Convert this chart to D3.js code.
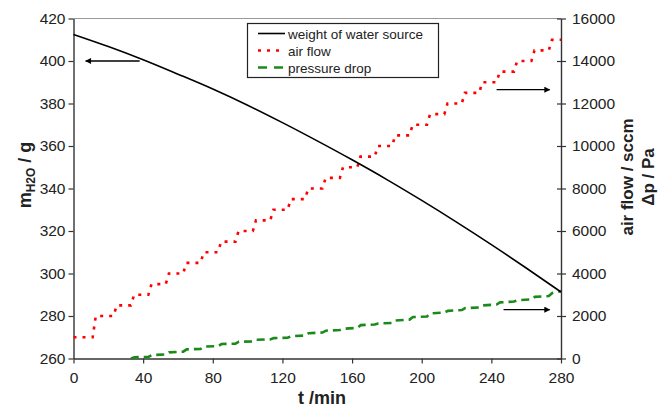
<!DOCTYPE html>
<html>
<head>
<meta charset="utf-8">
<script src="https://cdn.jsdelivr.net/npm/d3@7"></script>
<style>
  body { margin: 0; background: white; }
  text { font-family: "Liberation Sans", Arial, sans-serif; }
</style>
</head>
<body>
<div id="chart"></div>
<script>
var width = 669;
var height = 411;

// weight of water source (g) vs time (min)
var weightT = [0, 20, 40, 60, 80, 100, 120, 140, 160, 180, 200, 220, 240, 260, 280];
var weightV = [412.5, 406.8, 400.6, 393.8, 386.8, 379.2, 371, 362.4, 353.5, 344.2, 334.4, 324.2, 313.6, 302.6, 291.3];

// air flow (sccm), level set at each time
var flowT = [0, 12, 24, 34, 44, 54, 64, 74, 84, 94, 104, 114, 124, 134, 144, 154, 164, 174, 184, 194, 204, 214, 224, 234, 244, 254, 264, 274, 280];
var flowV = [1000, 2000, 2500, 3000, 3500, 4000, 4500, 5000, 5500, 6000, 6500, 7000, 7500, 8000, 8500, 9000, 9500, 10000, 10500, 11000, 11500, 12000, 12500, 13000, 13500, 14000, 14500, 15000, 15000];

// pressure drop (Pa)
var dropT = [33, 35, 43, 45, 53, 55, 63, 65, 73, 75, 83, 85, 93, 95, 103, 105, 113, 115, 123, 125, 133, 135, 143, 145, 153, 155, 163, 165, 173, 175, 183, 185, 193, 195, 203, 205, 213, 215, 223, 225, 233, 235, 243, 245, 253, 255, 263, 265, 273, 275, 280];
var dropV = [0, 60, 70, 160, 190, 290, 320, 430, 450, 560, 580, 680, 700, 790, 800, 880, 900, 960, 980, 1050, 1080, 1190, 1220, 1310, 1340, 1400, 1440, 1570, 1600, 1650, 1670, 1790, 1830, 1950, 1980, 2120, 2160, 2240, 2280, 2370, 2400, 2500, 2540, 2640, 2680, 2740, 2780, 2900, 2940, 3080, 3170];

var xTicks = [0, 40, 80, 120, 160, 200, 240, 280];
var yLeftTicks = [260, 280, 300, 320, 340, 360, 380, 400, 420];
var yRightTicks = [0, 2000, 4000, 6000, 8000, 10000, 12000, 14000, 16000];

var legendNames = ["weight of water source", "air flow", "pressure drop"];

var plotLeft = 73.5, plotRight = 561, plotTop = 18.5, plotBottom = 358.5;

var x = d3.scaleLinear().domain([0, 280]).range([plotLeft, plotRight]);
var yL = d3.scaleLinear().domain([260, 420]).range([plotBottom, plotTop]);
var yR = d3.scaleLinear().domain([0, 16000]).range([plotBottom, plotTop]);

var svg = d3.select("#chart")
            .append("svg")
            .attr("width", width)
            .attr("height", height);

svg.append("defs").append("marker")
    .attr("id", "arrow")
    .attr("viewBox", "0 0 10 10")
    .attr("refX", 9)
    .attr("refY", 5)
    .attr("markerWidth", 9)
    .attr("markerHeight", 6)
    .attr("markerUnits", "userSpaceOnUse")
    .attr("orient", "auto")
    .append("path")
    .attr("d", "M0,0 L10,5 L0,10 z")
    .attr("fill", "black");

// top frame
svg.append("line")
    .attr("x1", plotLeft).attr("x2", plotRight)
    .attr("y1", plotTop).attr("y2", plotTop)
    .attr("stroke", "#999")
    .attr("stroke-width", 1.2);

// axes
var xAxis = svg.append("g")
    .attr("transform", "translate(0," + plotBottom + ")")
    .call(d3.axisBottom(x).tickValues(xTicks).tickSize(5).tickSizeOuter(0).tickFormat(d3.format("d")));
xAxis.selectAll("text").attr("dy", "1.05em");

var leftAxis = svg.append("g")
    .attr("transform", "translate(" + plotLeft + ",0)")
    .call(d3.axisLeft(yL).tickValues(yLeftTicks).tickSize(5).tickSizeOuter(0).tickFormat(d3.format("d")));
leftAxis.selectAll("text").attr("x", -8);

var rightAxis = svg.append("g")
    .attr("transform", "translate(" + plotRight + ",0)")
    .call(d3.axisRight(yR).tickValues(yRightTicks).tickSize(5).tickSizeOuter(0).tickFormat(d3.format("d")));
rightAxis.selectAll(".tick line").attr("x1", -4);
rightAxis.selectAll("text").attr("x", 11);

svg.selectAll(".domain").attr("stroke", "#333").attr("stroke-width", 1.4);
svg.selectAll(".tick line").attr("stroke", "#333").attr("stroke-width", 1.2);
svg.selectAll(".tick text")
    .attr("fill", "#222")
    .style("font-family", "Liberation Sans, Arial, sans-serif")
    .style("font-size", "15.5px");

// series
var weightLine = d3.line()
    .x(function(d, i) { return x(weightT[i]); })
    .y(function(d) { return yL(d); })
    .curve(d3.curveMonotoneX);

var flowPts = [];
flowT.forEach(function(t, i) {
    if (i > 0 && flowV[i] !== flowV[i - 1]) {
        flowPts.push([t - 1, flowV[i - 1]]);
    }
    flowPts.push([i > 0 && flowV[i] !== flowV[i - 1] ? t + 0.8 : t, flowV[i]]);
});

var rLine = d3.line()
    .x(d => x(d[0]))
    .y(d => yR(d[1]));

svg.append("path")
    .datum(flowPts)
    .attr("d", rLine)
    .attr("fill", "none")
    .attr("stroke", "#ff0000")
    .attr("stroke-width", 2.6)
    .attr("stroke-dasharray", "3,6");

svg.append("path")
    .datum(dropT.map(function(t, i) { return [t, dropV[i]]; }))
    .attr("d", rLine)
    .attr("fill", "none")
    .attr("stroke", "#1a8a1a")
    .attr("stroke-width", 2.6)
    .attr("stroke-dasharray", "8,5");

svg.append("path")
    .datum(weightV)
    .attr("d", weightLine)
    .attr("fill", "none")
    .attr("stroke", "black")
    .attr("stroke-width", 1.6);

// arrows pointing to the matching axis
svg.append("line")
    .attr("x1", x(38)).attr("x2", x(7))
    .attr("y1", yL(400)).attr("y2", yL(400))
    .attr("stroke", "black").attr("stroke-width", 1.3)
    .attr("marker-end", "url(#arrow)");
svg.append("line")
    .attr("x1", x(243)).attr("x2", x(273.5))
    .attr("y1", yR(12650)).attr("y2", yR(12650))
    .attr("stroke", "black").attr("stroke-width", 1.3)
    .attr("marker-end", "url(#arrow)");
svg.append("line")
    .attr("x1", x(247)).attr("x2", x(273.5))
    .attr("y1", yR(2300)).attr("y2", yR(2300))
    .attr("stroke", "black").attr("stroke-width", 1.3)
    .attr("marker-end", "url(#arrow)");

// legend
var legend = svg.append("g");
legend.append("rect")
    .attr("x", 247.5).attr("y", 23.5)
    .attr("width", 191).attr("height", 54)
    .attr("fill", "white")
    .attr("stroke", "#222")
    .attr("stroke-width", 1.2);
var legendStyles = [
    { color: "black", dash: null, w: 1.6 },
    { color: "#ff0000", dash: "3,6", w: 2.6 },
    { color: "#1a8a1a", dash: "9,7", w: 2.6 }
];
legendNames.forEach(function(name, i) {
    var ly = 33.5 + i * 17;
    legend.append("line")
        .attr("x1", 258).attr("x2", 285)
        .attr("y1", ly).attr("y2", ly)
        .attr("stroke", legendStyles[i].color)
        .attr("stroke-width", legendStyles[i].w)
        .attr("stroke-dasharray", legendStyles[i].dash);
    legend.append("text")
        .attr("x", 288)
        .attr("y", ly + 5)
        .style("font-size", "13.5px")
        .attr("fill", "#222")
        .text(name);
});

// axis titles
svg.append("text")
    .attr("x", 322)
    .attr("y", 404)
    .style("text-anchor", "middle")
    .style("font-weight", "bold")
    .style("font-size", "18px")
    .attr("fill", "#222")
    .text("t /min");

var leftTitle = svg.append("text")
    .attr("transform", "translate(31,175) rotate(-90)")
    .style("text-anchor", "middle")
    .style("font-weight", "bold")
    .style("font-size", "18px")
    .attr("fill", "#222");
leftTitle.append("tspan").text("m");
leftTitle.append("tspan").attr("dy", 4).style("font-size", "12px").text("H2O");
leftTitle.append("tspan").attr("dy", -4).text(" / g");

svg.append("text")
    .attr("transform", "translate(633,177) rotate(-90)")
    .style("text-anchor", "middle")
    .style("font-weight", "bold")
    .style("font-size", "17px")
    .attr("fill", "#222")
    .text("air flow / sccm");

svg.append("text")
    .attr("transform", "translate(654,177) rotate(-90)")
    .style("text-anchor", "middle")
    .style("font-weight", "bold")
    .style("font-size", "17px")
    .attr("fill", "#222")
    .text("Δp / Pa");
</script>
</body>
</html>
